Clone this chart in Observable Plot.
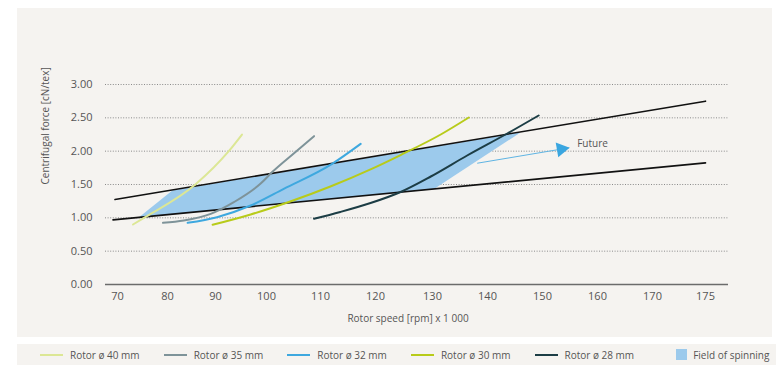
<!DOCTYPE html>
<html><head><meta charset="utf-8">
<script src="https://cdn.jsdelivr.net/npm/d3@7"></script>
<script src="https://cdn.jsdelivr.net/npm/@observablehq/plot@0.6"></script>
<style>
body{margin:0;background:#fff;font-family:"Open Sans",sans-serif;}
#wrap{position:relative;width:776px;height:365px;overflow:hidden;}
#chart{position:absolute;left:17px;top:8px;}
#legend{position:absolute;left:17px;top:344px;width:759px;height:21px;background:#f5f3f0;display:flex;align-items:center;font-size:10px;color:#555;padding-left:23px;box-sizing:border-box;}
.item{display:flex;align-items:center;margin-right:24px;white-space:nowrap;}
.item.field{margin-left:18px;}
.sw{width:23px;height:2px;margin-right:7px;}
.sq{width:11px;height:11px;margin-right:6px;}
</style>
</head><body>
<div id="wrap"><div id="chart"></div><div id="legend"></div></div>
<script>
const xTicks = [70, 80, 90, 100, 110, 120, 130, 140, 150, 160, 170, 175];
const yTicks = [0, 0.5, 1, 1.5, 2, 2.5, 3];
const xTitle = "Rotor speed [rpm] x 1 000";
const yTitle = "Centrifugal force [cN/tex]";
const seriesNames = ["Rotor ø 40 mm", "Rotor ø 35 mm", "Rotor ø 32 mm", "Rotor ø 30 mm", "Rotor ø 28 mm"];
const seriesColors = ["#dce795", "#7e9399", "#3ea8df", "#b8cb1a", "#1c3d45"];
const fieldName = "Field of spinning";
const fieldColor = "#9ccaec";

// [rpm x 1000, centrifugal force cN/tex]
const rotor40 = [[73.1, 0.90], [75.3, 1.00], [85.8, 1.50], [92.6, 2.00], [95.2, 2.25]];
const rotor35 = [[79.1, 0.925], [83.4, 0.96], [89.0, 1.06], [93.6, 1.235], [98.8, 1.51], [101.1, 1.69], [105.1, 1.97], [108.8, 2.225]];
const rotor32 = [[84.2, 0.925], [90.3, 1.01], [96.9, 1.185], [103.2, 1.435], [112.1, 1.81], [117.3, 2.11]];
const rotor30 = [[89.4, 0.895], [96.9, 1.05], [104.4, 1.245], [111.8, 1.47], [119.1, 1.727], [124.4, 1.942], [131.5, 2.25], [136.6, 2.505]];
const rotor28 = [[108.8, 0.985], [113.6, 1.088], [119.1, 1.222], [124.4, 1.388], [129.7, 1.62], [136.3, 1.935], [143.6, 2.265], [149.3, 2.535]];
const upperLimit = [[69.5, 1.275], [175, 2.75]];
const lowerLimit = [[69.1, 0.97], [175, 1.825]];
const spinningField = [[74.3, 1.01], [81.0, 1.41], [146.0, 2.28], [130.2, 1.43]];
const futureArrow = [[138.2, 1.82], [154.8, 2.05]];
const futureHead = [[153.4, 2.03]];
const futureLabel = [[156.3, 2.11, "Future"]];

const curves = [rotor40, rotor35, rotor32, rotor30, rotor28];
const X = d => d[0], Y = d => d[1];

const chart = Plot.plot({
  width: 755, height: 329,
  marginLeft: 88, marginRight: 44, marginTop: 76, marginBottom: 53,
  style: {background: "#f5f3f0", fontFamily: "'Open Sans', sans-serif", fontSize: "11px", color: "#555"},
  x: {type: "linear", domain: xTicks, range: [100, 150, 198, 249, 303, 358, 415, 470, 525, 580, 635, 688]},
  y: {type: "linear", domain: [0, 3]},
  marks: [
    Plot.gridY(yTicks.slice(1), {stroke: "#8a8a8a", strokeOpacity: 1, strokeWidth: 1, strokeDasharray: "1,1.6"}),
    Plot.ruleY([0], {stroke: "#6b6b6b", strokeWidth: 1.3}),
    Plot.line(spinningField, {x: X, y: Y, fill: fieldColor, stroke: "none"}),
    Plot.line(upperLimit, {x: X, y: Y, stroke: "#111", strokeWidth: 1.6}),
    Plot.line(lowerLimit, {x: X, y: Y, stroke: "#111", strokeWidth: 1.6}),
    ...curves.map((c, i) => Plot.line(c, {x: X, y: Y, stroke: seriesColors[i], strokeWidth: 2, curve: "monotone-x"})),
    Plot.line(futureArrow, {x: X, y: Y, stroke: "#5fb4e3", strokeWidth: 1}),
    Plot.dot(futureHead, {x: X, y: Y, symbol: "triangle", fill: "#3aa6e0", stroke: "none", r: 5.5, rotate: 80}),
    Plot.text(futureLabel, {x: X, y: Y, text: d => d[2], textAnchor: "start", fontSize: 10, fill: "#555"}),
    Plot.axisX(xTicks, {tickSize: 0, tickPadding: 8, tickFormat: d => String(d), label: null, fontSize: 11}),
    Plot.axisY(yTicks, {tickSize: 0, tickPadding: 13, tickFormat: d3.format(".2f"), label: null, fontSize: 11}),
    Plot.text([xTitle], {frameAnchor: "bottom", dy: 37, dx: -9, fontSize: 10, fill: "#555"}),
    Plot.text([yTitle], {frameAnchor: "left", dx: -60, rotate: -90, fontSize: 10, fill: "#555"})
  ]
});
document.getElementById("chart").appendChild(chart);

const legend = document.getElementById("legend");
seriesNames.forEach((name, i) => {
  const it = document.createElement("div");
  it.className = "item";
  it.innerHTML = `<span class="sw" style="background:${seriesColors[i]}"></span><span>${name}</span>`;
  legend.appendChild(it);
});
const f = document.createElement("div");
f.className = "item field";
f.innerHTML = `<span class="sq" style="background:${fieldColor}"></span><span>${fieldName}</span>`;
legend.appendChild(f);
</script>
</body></html>
